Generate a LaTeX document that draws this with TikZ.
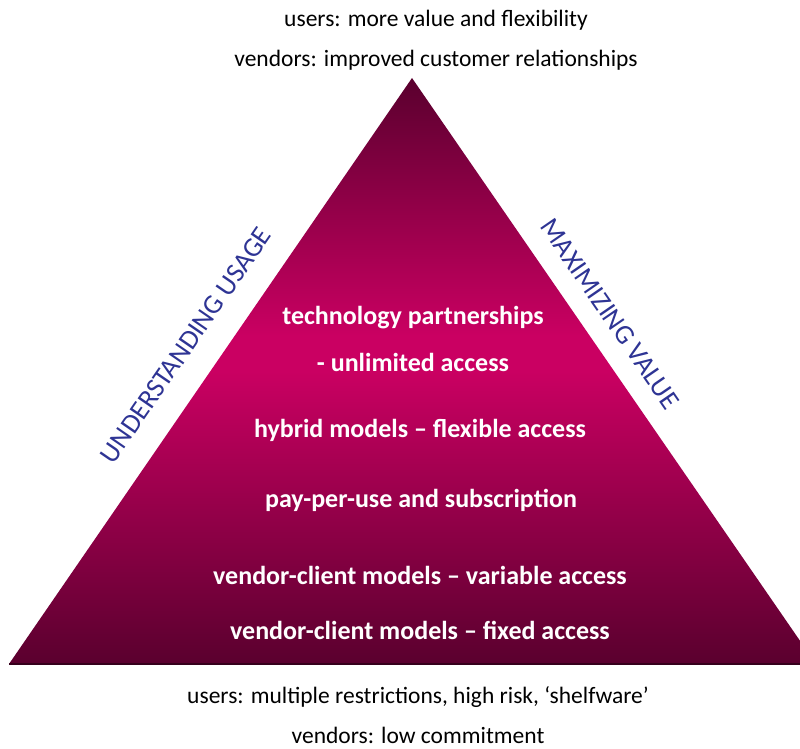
\documentclass[tikz,border=0pt]{standalone}
\usepackage{fontspec}
\setmainfont{Carlito}
\usetikzlibrary{positioning}

\definecolor{pyrdark}{RGB}{90,0,46}
\definecolor{pyrmag}{RGB}{202,0,98}
\definecolor{sideblue}{RGB}{46,52,148}
\pgfdeclareverticalshading{pyrshade}{100bp}{color(0bp)=(pyrdark); color(25bp)=(pyrdark); color(50bp)=(pyrmag); color(53bp)=(pyrmag); color(75bp)=(pyrdark); color(100bp)=(pyrdark)}

\begin{document}
\begin{tikzpicture}[x=1pt, y=-1pt
        , node distance = 44pt
        , every node/.style={font=\fontsize{23.5}{28}\selectfont, inner sep=1pt}
        , inner/.style={text=white, font=\fontsize{26}{30}\selectfont\bfseries}
        , outer/.style={text=black}
        , side/.style={text=sideblue, font=\fontsize{27.5}{30}\selectfont}
        ]
        \useasboundingbox (0,0) rectangle (800,749);
        \clip (0,0) rectangle (800,749);

        % pyramid
        \coordinate (apex) at (412,78);
        \coordinate (bl) at (9,664);
        \coordinate (br) at (816,664);
        \shade[shading=pyrshade] (apex) -- (br) -- (bl) -- cycle;
        \draw[pyrdark!60!black, line width=1.2pt] (bl) -- (br);

        % top
        \node[outer] (topusers) at (436,20) {users: more value and flexibility};
        \node[outer] (topvendors) [below of=topusers, node distance=40pt] {vendors: improved customer relationships};

        % levels
        \node[inner] (tech) at (413,318) {technology partnerships};
        \node[inner] (unlim) [below of=tech] {- unlimited access};
        \node[inner] (hybrid) at (420,430) {hybrid models -- flexible access};
        \node[inner] (payuse) at (421,500) {pay-per-use and subscription};
        \node[inner] (variable) at (420,575) {vendor-client models -- variable access};
        \node[inner] (fixed) [below of=variable, node distance=55pt] {vendor-client models -- fixed access};

        % bottom
        \node[outer] (botusers) at (418,697) {users: multiple restrictions, high risk, ‘shelfware’};
        \node[outer] (botvendors) [below of=botusers, node distance=38pt] {vendors: low commitment};

        % sides
        \node[side, rotate=55.4] (usage) at (186,345) {UNDERSTANDING USAGE};
        \node[side, rotate=-55.4] (value) at (610,314) {MAXIMIZING VALUE};

    \end{tikzpicture}
\end{document}
